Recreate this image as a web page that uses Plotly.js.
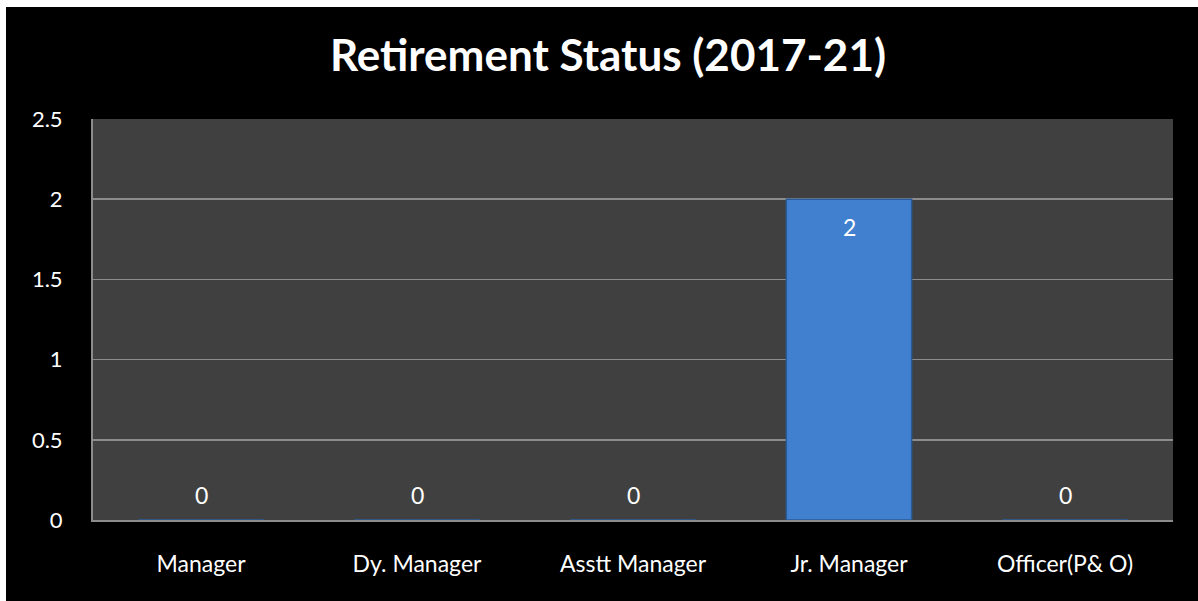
<!DOCTYPE html>
<html><head><meta charset="utf-8">
<script src="https://cdn.plot.ly/plotly-3.0.1.min.js"></script>
<style>
html,body{margin:0;padding:0;background:#ffffff;width:1198px;height:601px;overflow:hidden}
#chart{position:absolute;left:6px;top:7px;width:1192px;height:594px}
</style></head>
<body><div id="chart"></div>
<script>
const categories = ["Manager", "Dy. Manager", "Asstt Manager", "Jr. Manager", "Officer(P& O)"];
const retirements = [0, 0, 0, 2, 0];
const yTicks = [0, 0.5, 1, 1.5, 2, 2.5];
const yTickLabels = ["0", "0.5", "1", "1.5", "2", "2.5"];

const font = "Lato, 'Open Sans', sans-serif";

const bar = {
  type: "bar",
  x: categories,
  y: retirements,
  marker: {color: "#4180cf", line: {color: "#2b5b99", width: 1.5}},
  hoverinfo: "x+y",
  showlegend: false
};

const annotations = categories.map((c, i) => ({
  x: c, y: retirements[i], xref: "x", yref: "y",
  text: String(retirements[i]), showarrow: false,
  yanchor: "middle", yshift: retirements[i] > 0 ? -28 : 25,
  font: {family: font, size: 23, color: "#ffffff"}
}));

const layout = {
  width: 1192, height: 594,
  paper_bgcolor: "#000000",
  plot_bgcolor: "#404040",
  margin: {l: 87, r: 25, t: 112, b: 81},
  title: {
    text: "<b>Retirement Status (2017-21)</b>",
    x: 0.505, xanchor: "center", y: 0.919, yanchor: "middle",
    font: {family: font, size: 44, color: "#ffffff"}
  },
  bargap: 0.42,
  xaxis: {
    type: "category",
    tickfont: {family: font, size: 23, color: "#ffffff"},
    showline: true, linecolor: "#8c8c8c", linewidth: 2,
    ticks: "", showgrid: false, ticklabelstandoff: 22,
    fixedrange: true
  },
  yaxis: {
    range: [0, 2.5],
    tickvals: yTicks, ticktext: yTickLabels,
    tickfont: {family: font, size: 22, color: "#ffffff"},
    showgrid: true, gridcolor: "#8c8c8c", gridwidth: 1.5,
    showline: true, linecolor: "#8c8c8c", linewidth: 2,
    zeroline: false, ticks: "", ticklabelstandoff: 24,
    fixedrange: true
  },
  annotations: annotations
};

Plotly.newPlot("chart", [bar], layout, {displayModeBar: false, staticPlot: true});
</script></body></html>
